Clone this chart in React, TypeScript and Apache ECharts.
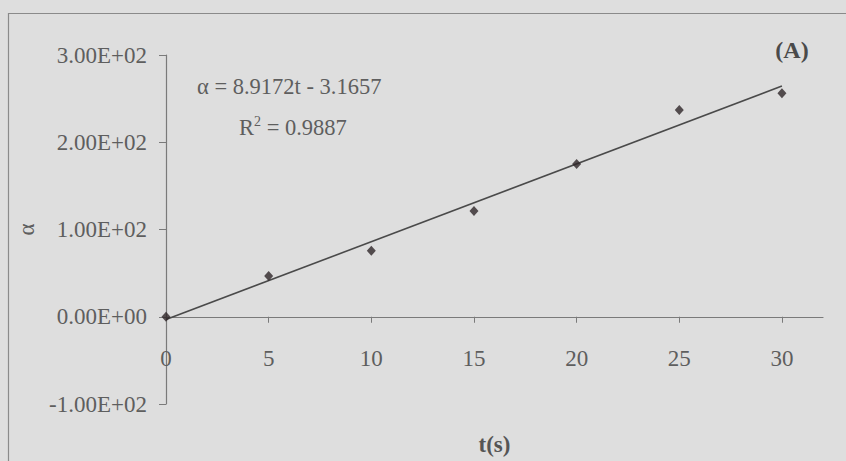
import React, { useEffect, useRef } from "react";
import * as echarts from "echarts";

// Measured data points (t in s, alpha)
const tValues = [0, 5, 10, 15, 20, 25, 30];
const alphaValues = [0, 46.7, 75.7, 121.2, 175, 237, 256.2];

// Linear trend line as printed on the chart
const trendSlope = 8.9172;
const trendIntercept = -3.1657;
const trendT = [0, 30];
const rSquared = "0.9887";

// Axis ticks
const xTickValues = [0, 5, 10, 15, 20, 25, 30];

const FONT = "'Liberation Serif', 'Times New Roman', serif";
const TEXT = "#5e5e5e";
const AXIS = "#7a7a7a";

function sci(v: number): string {
  if (v === 0) return "0.00E+00";
  const e = Math.floor(Math.log10(Math.abs(v)) + 1e-9);
  const m = v / Math.pow(10, e);
  return m.toFixed(2) + "E" + (e < 0 ? "-" : "+") + String(Math.abs(e)).padStart(2, "0");
}

export default function App() {
  const ref = useRef<HTMLDivElement>(null);
  useEffect(() => {
    if (!ref.current) return;
    const chart = echarts.init(ref.current, undefined, { renderer: "svg" });
    const scatterData = tValues.map((t, i) => [t, alphaValues[i]]);
    const trendData = trendT.map((t) => [t, trendIntercept + trendSlope * t]);
    chart.setOption({
      animation: false,
      backgroundColor: "#dedede",
      textStyle: { fontFamily: FONT },
      grid: { left: 166, right: 23, top: 55, bottom: 57, outerBoundsMode: "none", containLabel: false },
      xAxis: {
        type: "value",
        min: 0,
        max: 32,
        interval: 5,
        name: "t(s)",
        nameLocation: "middle",
        nameGap: 29,
        nameTextStyle: { fontFamily: FONT, fontSize: 23, fontWeight: "bold", color: "#555" },
        axisLine: { onZero: true, lineStyle: { color: AXIS, width: 1.2 } },
        axisTick: { show: true, length: 6, inside: false, customValues: xTickValues, lineStyle: { color: AXIS } },
        axisLabel: {
          customValues: xTickValues,
          margin: -57,
          fontFamily: FONT,
          fontSize: 23,
          color: TEXT,
        },
        splitLine: { show: false },
      },
      yAxis: {
        type: "value",
        min: -100,
        max: 300,
        interval: 100,
        name: "α",
        nameLocation: "middle",
        nameRotate: 90,
        nameGap: 115,
        nameTextStyle: { fontFamily: FONT, fontSize: 23, color: TEXT },
        axisLine: { show: true, onZero: false, lineStyle: { color: AXIS, width: 1.2 } },
        axisTick: { show: true, length: 7, lineStyle: { color: AXIS } },
        axisLabel: {
          margin: 19,
          fontFamily: FONT,
          fontSize: 23,
          color: TEXT,
          formatter: (v: number) => sci(v),
        },
        splitLine: { show: false },
      },
      graphic: [
        {
          type: "rect",
          shape: { x: 8.5, y: 13.5, width: 900, height: 500 },
          style: { fill: "none", stroke: "#8a8a8a", lineWidth: 1.2 },
          silent: true,
        },
        {
          type: "text",
          x: 197,
          y: 86,
          style: {
            text: "α = 8.9172t - 3.1657",
            font: `22.5px ${FONT}`,
            fill: TEXT,
            verticalAlign: "middle",
          },
        },
        {
          type: "text",
          x: 239,
          y: 127,
          style: {
            text: "R{sup|2} = " + rSquared,
            font: `22.5px ${FONT}`,
            fill: TEXT,
            verticalAlign: "middle",
            rich: {
              sup: { fontSize: 14, fontFamily: FONT, fill: TEXT, verticalAlign: "top", padding: [0, 0, 12, 0] },
            },
          },
        },
        {
          type: "text",
          x: 792,
          y: 50,
          style: {
            text: "(A)",
            font: `bold 24px ${FONT}`,
            fill: "#4a4a4a",
            align: "center",
            verticalAlign: "middle",
          },
        },
      ],
      series: [
        {
          type: "line",
          data: trendData,
          symbol: "none",
          lineStyle: { color: "#4a4a4a", width: 1.6 },
          z: 2,
        },
        {
          type: "scatter",
          data: scatterData,
          symbol: "diamond",
          symbolSize: [9, 10],
          itemStyle: { color: "#2e2628" },
          z: 3,
        },
      ],
    });
    return () => chart.dispose();
  }, []);
  return (
    <div
      ref={ref}
      style={{ position: "fixed", left: 0, top: 0, width: 846, height: 461 }}
    />
  );
}
